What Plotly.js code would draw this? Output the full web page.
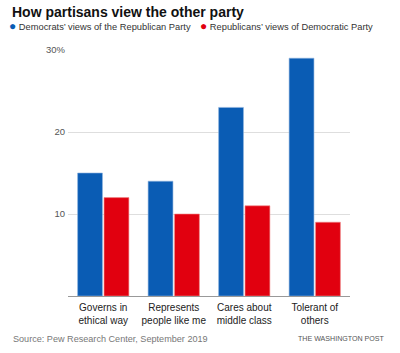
<!DOCTYPE html>
<html><head><meta charset="utf-8">
<script src="https://cdn.plot.ly/plotly-3.0.1.min.js"></script>
<style>body{margin:0;background:#fff}#c{width:400px;height:353px}</style>
</head><body><div id="c"></div>
<script>
const categories = ["Governs in<br>ethical way", "Represents<br>people like me", "Cares about<br>middle class", "Tolerant of<br>others"];
const demViewsOfRep = [15, 14, 23, 29];
const repViewsOfDem = [12, 10, 11, 9];
const seriesNames = ["Democrats’ views of the Republican Party", "Republicans’ views of Democratic Party"];
const tickVals = [10, 20, 30];
const tickText = ["10", "20", "30%"];

const BLUE = "#0a5cb4", RED = "#e1000f";
const F = "'Liberation Sans',Arial,Helvetica,sans-serif";

// plot area in pixels (for placing free text in paper coordinates)
const PL = 68, PR = 350, PT = 50, PB = 296;
const px = v => (v - PL) / (PR - PL);
const py = v => (PB - v) / (PB - PT);

const traces = [
  {type:"bar", x:categories, y:demViewsOfRep, name:seriesNames[0],
   marker:{color:BLUE, line:{color:"#8fb3df", width:0.6}}},
  {type:"bar", x:categories, y:repViewsOfDem, name:seriesNames[1],
   marker:{color:RED, line:{color:"#f08a8a", width:0.6}}}
];

function legendItem(color, label, x){
  return {text:'<span style="color:'+color+';font-size:12px">●</span> '+label,
    xref:"paper", yref:"paper", x:px(x), y:py(26), xanchor:"left", yanchor:"middle",
    showarrow:false, font:{family:F, size:9.3, color:"#333"}};
}

const layout = {
  width:400, height:353,
  margin:{l:PL, r:400-PR, t:PT, b:353-PB, autoexpand:false},
  paper_bgcolor:"#fff", plot_bgcolor:"#fff",
  font:{family:F, color:"#333"},
  title:{text:"<b>How partisans view the other party</b>", x:12/400, xref:"container", xanchor:"left", y:1-12/353, yref:"container", yanchor:"middle",
    font:{family:F, size:14, color:"#111"}},
  barmode:"group", bargap:0.25, bargroupgap:0.06,
  showlegend:false,
  xaxis:{type:"category", showgrid:false, showline:true, linecolor:"#999", linewidth:1, ticks:"", tickangle:0, automargin:false,
    ticklabelstandoff:2, tickfont:{family:F, size:10, color:"#222"}, fixedrange:true},
  yaxis:{range:[0,30], tickvals:tickVals, ticktext:tickText, showgrid:true, gridcolor:"#dedede", gridwidth:1, automargin:false,
    zeroline:false, showline:false, ticks:"", ticklabelstandoff:2, tickfont:{family:F, size:9.5, color:"#555"}, fixedrange:true},
  annotations:[
    legendItem(BLUE, seriesNames[0], 7),
    legendItem(RED, seriesNames[1], 198),
    {text:"Source: Pew Research Center, September 2019", xref:"paper", yref:"paper", x:px(11), y:py(339), xanchor:"left", yanchor:"middle",
     showarrow:false, font:{family:F, size:9.1, color:"#777"}},
    {text:"THE WASHINGTON POST", xref:"paper", yref:"paper", x:px(387), y:py(339), xanchor:"right", yanchor:"middle",
     showarrow:false, font:{family:F, size:7.1, color:"#555"}}
  ]
};
Plotly.newPlot("c", traces, layout, {displayModeBar:false, staticPlot:true});
</script></body></html>
